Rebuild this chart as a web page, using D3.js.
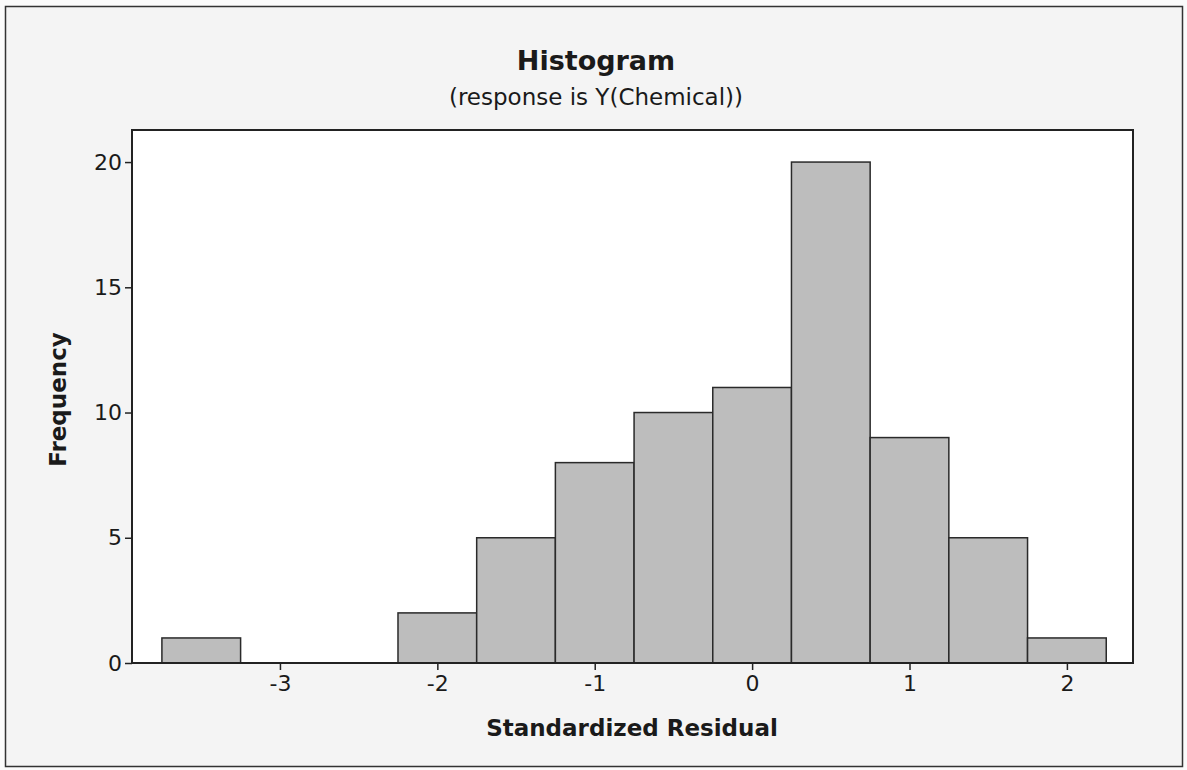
<!DOCTYPE html>
<html>
<head>
<meta charset="utf-8">
<script src="https://cdn.jsdelivr.net/npm/d3@7/dist/d3.min.js"></script>
<style>
  html, body { margin: 0; padding: 0; background: #fbfbfb; }
  svg { display: block; }
  text { font-family: "DejaVu Sans", Verdana, sans-serif; fill: #1a1a1a; }
</style>
</head>
<body>
<svg id="chart" width="1187" height="770"></svg>
<script>
// ---- data ----
const binCenters = [-3.5, -3.0, -2.5, -2.0, -1.5, -1.0, -0.5, 0.0, 0.5, 1.0, 1.5, 2.0];
const frequencies = [1, 0, 0, 2, 5, 8, 10, 11, 20, 9, 5, 1];
const binWidth = 0.5;
const xTicks = [-3, -2, -1, 0, 1, 2];
const yTicks = [0, 5, 10, 15, 20];
const titleText = "Histogram";
const subtitleText = "(response is Y(Chemical))";
const xLabel = "Standardized Residual";
const yLabel = "Frequency";

// ---- layout ----
const W = 1187, H = 770;
const plot = { left: 132, right: 1133, top: 130, bottom: 663 };

const svg = d3.select("#chart");

// background panel + outer frame
svg.append("rect").attr("x", 5.5).attr("y", 6.5).attr("width", 1177).attr("height", 760)
  .attr("fill", "#f4f4f4").attr("stroke", "#333").attr("stroke-width", 1.5);

const x = d3.scaleLinear().domain([-3.94, 2.42]).range([plot.left, plot.right]);
const y = d3.scaleLinear().domain([0, 21.28]).range([plot.bottom, plot.top]);

// plot area
svg.append("rect").attr("x", plot.left).attr("y", plot.top)
  .attr("width", plot.right - plot.left).attr("height", plot.bottom - plot.top)
  .attr("fill", "#ffffff");

// bars
const data = binCenters.map((c, i) => ({ c, f: frequencies[i] })).filter(d => d.f > 0);
svg.append("g").selectAll("rect").data(data).join("rect")
  .attr("x", d => x(d.c - binWidth / 2))
  .attr("y", d => y(d.f))
  .attr("width", d => x(d.c + binWidth / 2) - x(d.c - binWidth / 2))
  .attr("height", d => y(0) - y(d.f))
  .attr("fill", "#bdbdbd")
  .attr("stroke", "#2a2a2a")
  .attr("stroke-width", 1.5);

// plot frame
svg.append("rect").attr("x", plot.left).attr("y", plot.top)
  .attr("width", plot.right - plot.left).attr("height", plot.bottom - plot.top)
  .attr("fill", "none").attr("stroke", "#222").attr("stroke-width", 2);

// axes
const xAxis = d3.axisBottom(x).tickValues(xTicks).tickSize(7).tickPadding(5)
  .tickFormat(d => d < 0 ? "-" + Math.abs(d) : String(d));
const gx = svg.append("g").attr("transform", `translate(0,${plot.bottom})`).call(xAxis);
gx.select(".domain").remove();
gx.selectAll(".tick line").attr("stroke", "#222").attr("stroke-width", 1.5);
gx.selectAll(".tick text").attr("font-size", 22).style("fill", "#1a1a1a")
  .style("font-family", "'DejaVu Sans', Verdana, sans-serif");

const yAxis = d3.axisLeft(y).tickValues(yTicks).tickSize(7).tickPadding(3);
const gy = svg.append("g").attr("transform", `translate(${plot.left},0)`).call(yAxis);
gy.select(".domain").remove();
gy.selectAll(".tick line").attr("stroke", "#222").attr("stroke-width", 1.5);
gy.selectAll(".tick text").attr("font-size", 22).style("fill", "#1a1a1a")
  .style("font-family", "'DejaVu Sans', Verdana, sans-serif");

// titles
svg.append("text").attr("x", 596).attr("y", 70).attr("text-anchor", "middle")
  .attr("font-size", 27).attr("font-weight", "bold").text(titleText);
svg.append("text").attr("x", 596).attr("y", 105).attr("text-anchor", "middle")
  .attr("font-size", 23).text(subtitleText);
svg.append("text").attr("x", 632).attr("y", 736).attr("text-anchor", "middle")
  .attr("font-size", 23).attr("font-weight", "bold").text(xLabel);
svg.append("text").attr("transform", `translate(66,${(plot.top + plot.bottom) / 2 + 3}) rotate(-90)`)
  .attr("text-anchor", "middle").attr("font-size", 23).attr("font-weight", "bold").text(yLabel);
</script>
</body>
</html>
